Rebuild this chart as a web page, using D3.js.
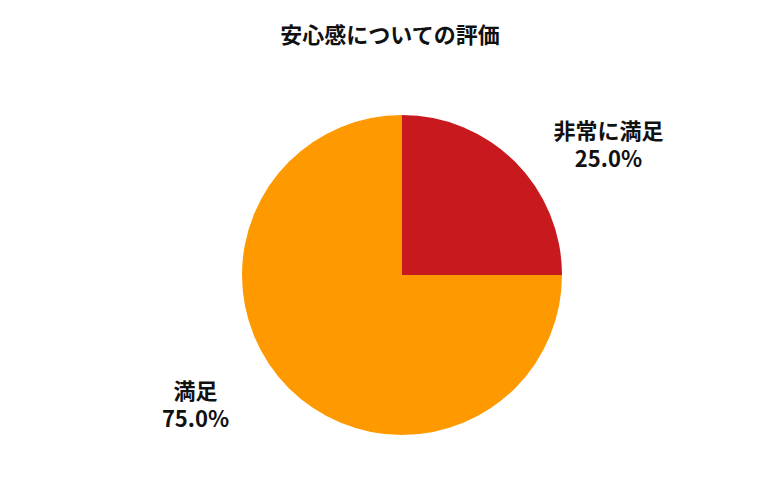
<!DOCTYPE html>
<html lang="ja">
<head>
<meta charset="UTF-8">
<script src="https://d3js.org/d3.v7.min.js"></script>
<style>
  body { margin: 0; background: #fff; }
  text { font-family: "Noto Sans CJK JP", "Noto Sans", sans-serif; font-weight: bold; fill: #111; }
</style>
</head>
<body>
<svg width="780" height="500"></svg>
<script>
const title = "安心感についての評価";
const categories = ["非常に満足", "満足"];
const values = [25, 75];
const colors = ["#C8191E", "#FF9900"];

const svg = d3.select("svg");
const cx = 402, cy = 275, r = 160;

svg.append("text").attr("x", 390).attr("y", 43).attr("text-anchor", "middle")
  .attr("font-size", 22).text(title);

const pie = d3.pie().sort(null)(values);
const arc = d3.arc().innerRadius(0).outerRadius(r);
const g = svg.append("g").attr("transform", `translate(${cx},${cy})`);

g.selectAll("path").data(pie).join("path")
  .attr("d", arc).attr("fill", (d, i) => colors[i]);

const total = d3.sum(values);
const lab = g.selectAll("g.lab").data(pie).join("g")
  .attr("transform", d => {
    const a = (d.startAngle + d.endAngle) / 2;
    return `translate(${Math.sin(a) * 292},${-Math.cos(a) * 184})`;
  });
lab.append("text").attr("text-anchor", "middle").attr("y", -6).attr("font-size", 22)
  .text((d, i) => categories[i]);
lab.append("text").attr("text-anchor", "middle").attr("y", 22).attr("font-size", 22)
  .text(d => (d.value / total * 100).toFixed(1) + "%");
</script>
</body>
</html>
